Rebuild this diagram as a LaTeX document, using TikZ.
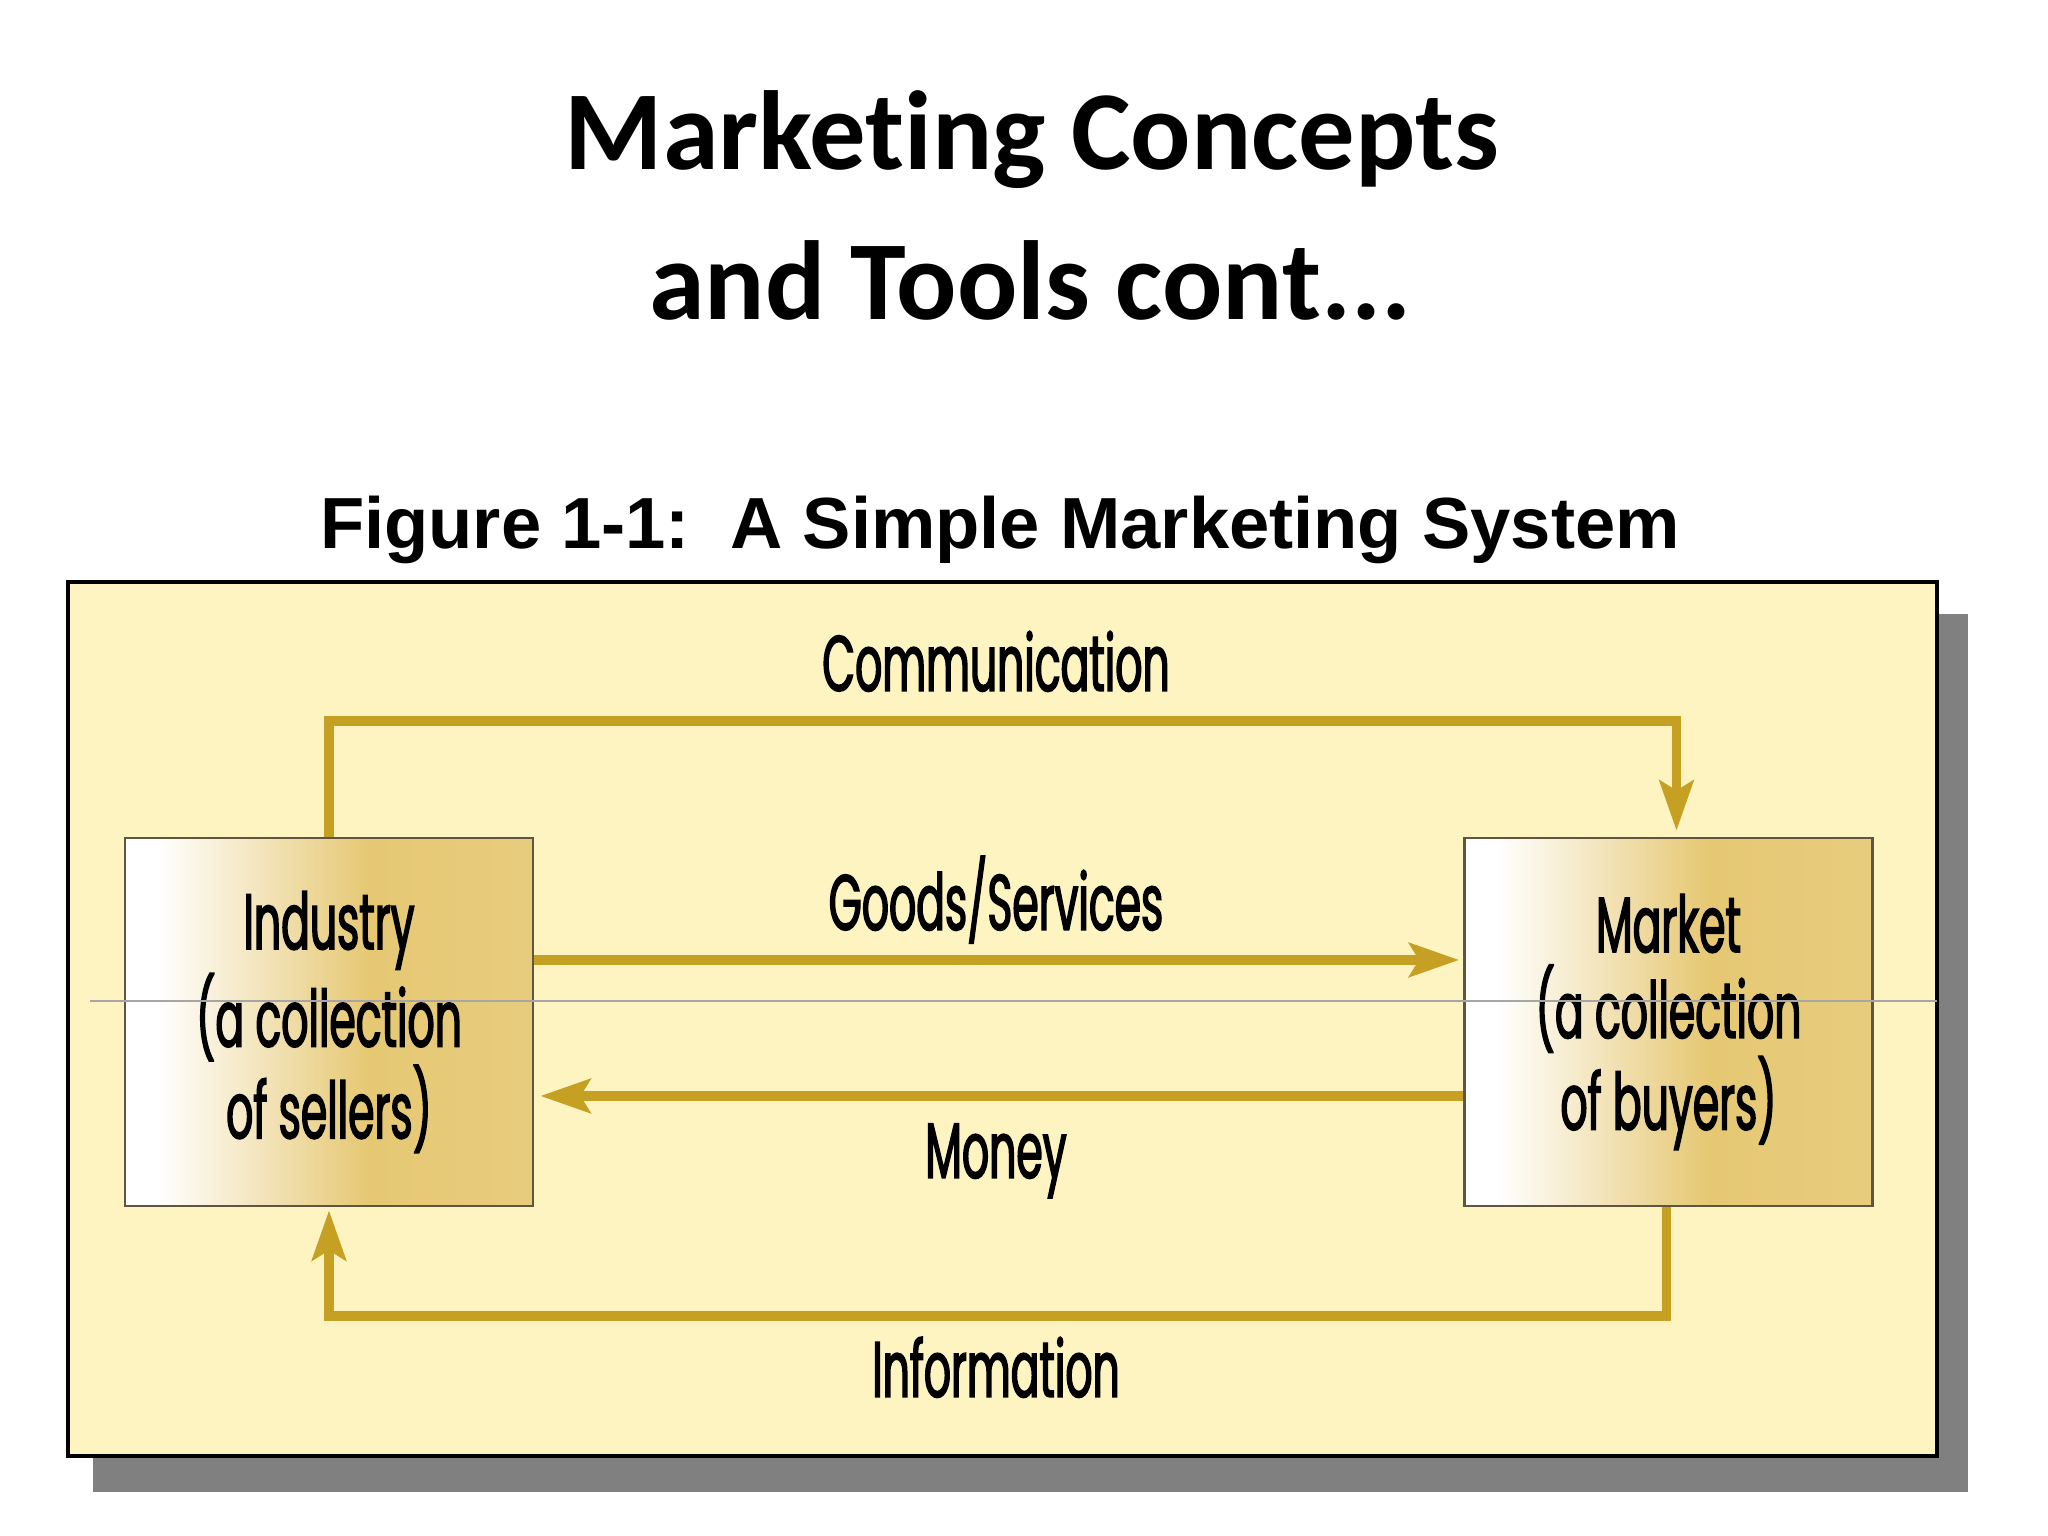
\documentclass[tikz,border=0pt]{standalone}
\usepackage{fontspec}
\usepackage{xcolor}
\definecolor{panelbg}{HTML}{FDF4C2}
\definecolor{flowgold}{HTML}{C6A023}
\definecolor{boxgold}{HTML}{E6C873}
\definecolor{boxedge}{HTML}{5E5640}
\definecolor{shadowgray}{HTML}{808080}
\newfontfamily\titlefont[Ligatures=NoCommon]{Carlito}
\newfontfamily\capfont{Liberation Sans}
\newfontfamily\flowfont[FakeStretch=0.54, FakeBold=1.8]{Poppins}
\usepackage{tikz}
\usetikzlibrary{arrows.meta,positioning,calc}
\pgfdeclarehorizontalshading{actorshade}{100bp}{color(0bp)=(white); color(29bp)=(white);
  color(55bp)=(boxgold); color(75bp)=(boxgold!92!white); color(100bp)=(boxgold!92!white)}
\tikzset{
  party/.style={
    rectangle, draw=boxedge, line width=0.8pt,
    shading=actorshade,
    minimum width=40.8mm, minimum height=36.8mm,
    align=center, inner sep=0pt,
    font=\flowfont\fontsize{22.4}{24.4}\selectfont
  },
  flowlabel/.style={
    anchor=base, inner sep=0pt,
    font=\flowfont\fontsize{22.4}{24.4}\selectfont
  },
  flow/.style={-{Stealth[length=5mm,width=3.4mm,inset=1mm]}, line width=2.6pt,
    draw=flowgold, color=flowgold},
}

\begin{document}
\begin{tikzpicture}

  \useasboundingbox (0,0) rectangle (20.48,15.36);
  \fill[white] (0,0) rectangle (20.48,15.36);

  % ── Row positions ────────────────────────────────────────────────────────────
  \def\midX{9.96}     % centre of the flow labels
  \def\rowY{5.14}     % centre of the two parties

  % ════════════════════════════════════════════════════════════════════════════
  % Heading
  % ════════════════════════════════════════════════════════════════════════════
  \node[anchor=base, font=\titlefont\bfseries\fontsize{32}{38}\selectfont] (title1)
    at (10.32,13.66) {Marketing Concepts};
  \node[anchor=base, font=\titlefont\bfseries\fontsize{32}{38}\selectfont] (title2)
    at (10.30,12.16) {and Tools cont...};
  \node[anchor=base, font=\capfont\bfseries\fontsize{20.6}{24}\selectfont] (caption)
    at (10.00,9.87) {Figure 1-1:\ \ A Simple Marketing System};

  % ════════════════════════════════════════════════════════════════════════════
  % Panel with drop shadow
  % ════════════════════════════════════════════════════════════════════════════
  \fill[shadowgray] (0.93,0.44) rectangle (19.68,9.22);
  \draw[black, line width=1.2pt, fill=panelbg] (0.68,0.80) rectangle (19.37,9.54);

  % ── Parties ──────────────────────────────────────────────────────────────────
  \node[party] (ind) at (3.29,\rowY)  {Industry\\(a collection\\of sellers)};
  \node[party] (mkt) at (16.685,\rowY) {Market\\(a collection\\of buyers)};

  % ── Flows ────────────────────────────────────────────────────────────────────
  \coordinate (commTop) at (\midX,8.15);
  \coordinate (infoBot) at (\midX,2.20);

  \draw[flow] (ind.north) |- (commTop) -| ([xshift=0.8mm, yshift=0.6mm]mkt.north);
  \draw[flow] ([yshift=6.2mm]ind.east) -- ([yshift=6.2mm, xshift=-0.4mm]mkt.west);
  \draw[flow] ([yshift=-7.4mm]mkt.west) -- ([yshift=-7.4mm, xshift=0.6mm]ind.east);
  \draw[flow] ([xshift=-0.2mm]mkt.south) |- (infoBot) -| ([yshift=-0.3mm]ind.south);

  \node[flowlabel] (lcomm)  at (\midX,8.45) {Communication};
  \node[flowlabel] (lgoods) at (\midX,6.06) {Goods/Services};
  \node[flowlabel] (lmoney) at (\midX,3.58) {Money};
  \node[flowlabel] (linfo)  at (\midX,1.39) {Information};

  % thin rule across the panel
  \draw[gray!70, line width=0.5pt] (0.90,5.35) -- (19.37,5.35);

\end{tikzpicture}
\end{document}
